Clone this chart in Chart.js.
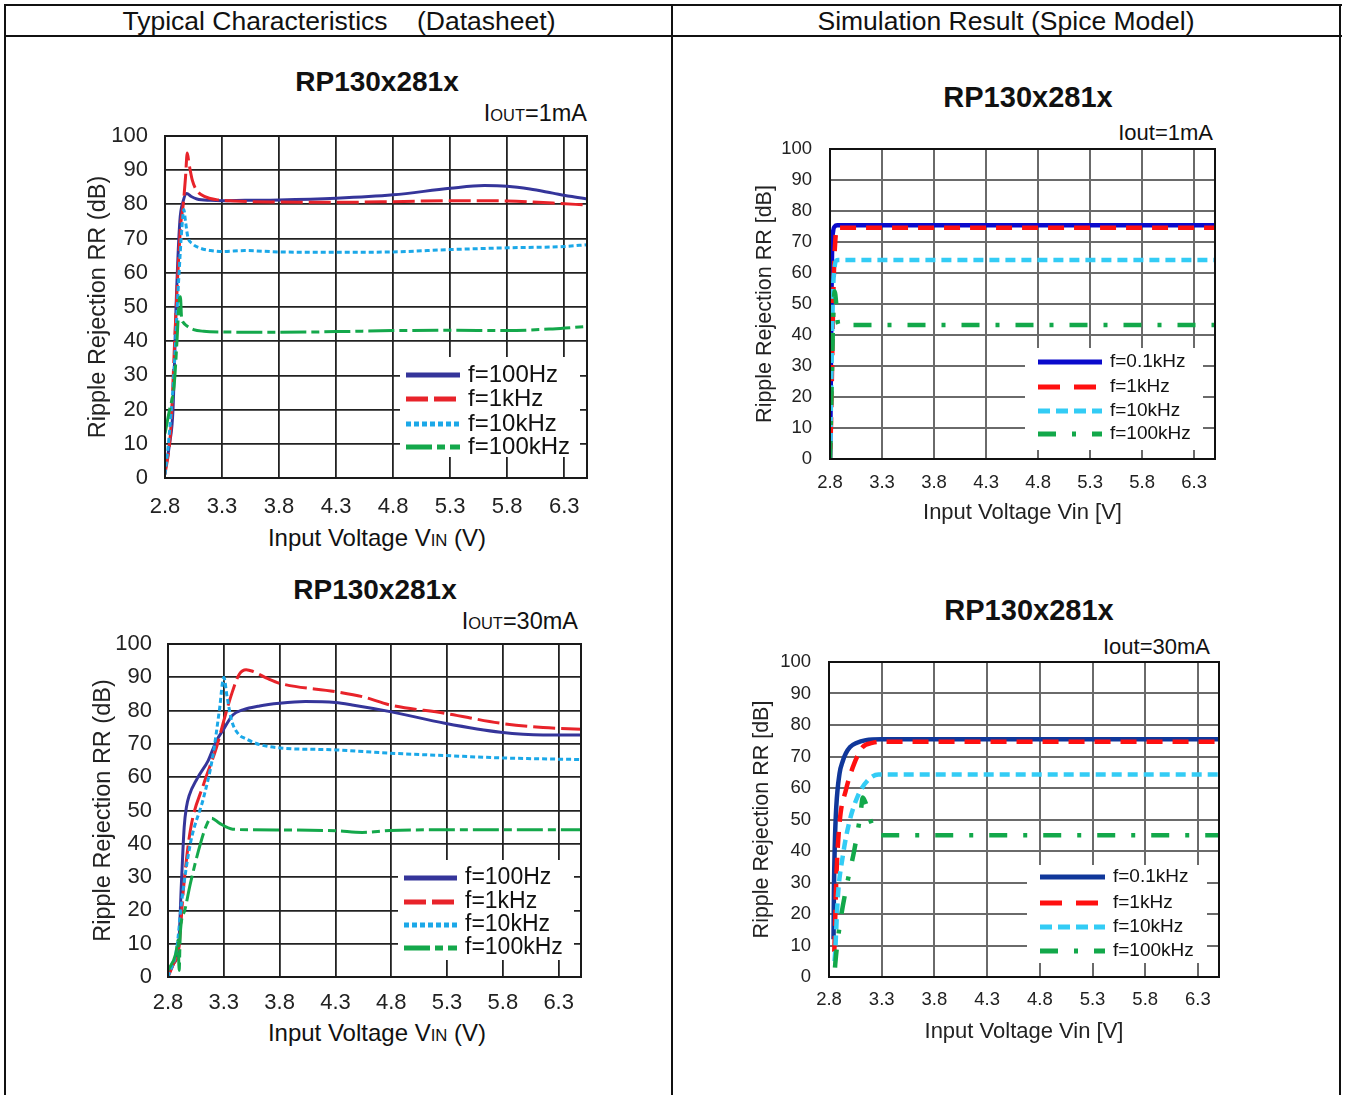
<!DOCTYPE html>
<html>
<head>
<meta charset="utf-8">
<script src="https://cdn.jsdelivr.net/npm/chart.js@4.4.1/dist/chart.umd.min.js"></script>
<style>
  body { margin: 0; background: #fff; font-family: 'Liberation Sans', Arial, sans-serif; color: #111; }
  #page { position: relative; width: 1346px; height: 1095px; overflow: hidden; }
  .rule { position: absolute; background: #111; }
  .lbl { position: absolute; white-space: pre; line-height: 1; transform: translate(-50%, -50%); }
  .lbl.right { transform: translate(-100%, -50%); }
  .sc { font-size: 70%; }
  canvas { position: absolute; }
</style>
</head>
<body>
<div id="page">
  <!-- table rules -->
  <div class="rule" style="left:4px;top:4px;width:1338px;height:2px"></div>
  <div class="rule" style="left:4px;top:35px;width:1338px;height:2px"></div>
  <div class="rule" style="left:4px;top:4px;width:2px;height:1091px"></div>
  <div class="rule" style="left:671px;top:4px;width:2px;height:1091px"></div>
  <div class="rule" style="left:1339px;top:4px;width:2px;height:1091px"></div>

  <div class="lbl" style="left:339px;top:21px;font-size:26.5px">Typical Characteristics    (Datasheet)</div>
  <div class="lbl" style="left:1006px;top:21px;font-size:26.5px">Simulation Result (Spice Model)</div>

  <!-- datasheet, 1mA -->
  <div class="lbl" style="left:377px;top:82px;font-size:28px;font-weight:bold">RP130x281x</div>
  <div class="lbl right" style="left:587px;top:114px;font-size:23.5px">I<span class="sc">OUT</span>=1mA</div>
  <div class="lbl" style="left:377px;top:538px;font-size:24px">Input Voltage V<span class="sc">IN</span> (V)</div>
  <canvas id="chartA"></canvas>

  <!-- datasheet, 30mA -->
  <div class="lbl" style="left:375px;top:590px;font-size:28px;font-weight:bold">RP130x281x</div>
  <div class="lbl right" style="left:578px;top:622px;font-size:23.5px">I<span class="sc">OUT</span>=30mA</div>
  <div class="lbl" style="left:377px;top:1033px;font-size:24px">Input Voltage V<span class="sc">IN</span> (V)</div>
  <canvas id="chartC"></canvas>

  <!-- simulation, 1mA -->
  <div class="lbl" style="left:1028px;top:97px;font-size:29px;font-weight:bold">RP130x281x</div>
  <div class="lbl right" style="left:1213px;top:133px;font-size:22px">Iout=1mA</div>
  <canvas id="chartB"></canvas>

  <!-- simulation, 30mA -->
  <div class="lbl" style="left:1029px;top:610px;font-size:29px;font-weight:bold">RP130x281x</div>
  <div class="lbl right" style="left:1210px;top:647px;font-size:22px">Iout=30mA</div>
  <canvas id="chartD"></canvas>
</div>

<script>
// tick labels
const xTicks = [2.8, 3.3, 3.8, 4.3, 4.8, 5.3, 5.8, 6.3];
const yTicks = [0, 10, 20, 30, 40, 50, 60, 70, 80, 90, 100];

// datasheet, Iout=1mA
const a100HzVin = [2.80, 2.84, 2.87, 2.90, 2.93, 2.96, 2.99, 3.03, 3.08, 3.20, 3.30, 3.50, 3.80, 4.30, 4.80, 5.30, 5.60, 5.80, 6.00, 6.20, 6.35, 6.50];
const a100HzRr  = [2, 10, 20, 53, 75, 81, 83.2, 82.3, 81.6, 81.2, 81.1, 81.2, 81.3, 81.8, 82.8, 84.7, 85.5, 85.3, 84.5, 83.3, 82.4, 81.6];
const a1kHzVin  = [2.80, 2.85, 2.89, 2.935, 2.96, 2.98, 2.995, 3.01, 3.04, 3.08, 3.15, 3.25, 3.40, 3.80, 4.30, 4.80, 5.30, 5.80, 6.20, 6.50];
const a1kHzRr   = [1, 14, 44, 73, 80, 88, 95, 92, 87, 84, 82.3, 81.4, 81, 80.7, 80.6, 80.8, 81.1, 81, 80.4, 79.8];
const a10kHzVin = [2.80, 2.83, 2.875, 2.92, 2.95, 2.965, 2.98, 3.00, 3.04, 3.10, 3.20, 3.30, 3.50, 3.80, 4.30, 4.80, 5.30, 5.80, 6.30, 6.50];
const a10kHzRr  = [1, 10, 29, 58, 74, 78.5, 75, 70.5, 68.5, 67.3, 66.5, 66.2, 66.5, 66.1, 66, 66.1, 66.8, 67.3, 67.7, 68.2];
const a100kHzVin = [2.80, 2.84, 2.88, 2.905, 2.925, 2.935, 2.945, 2.96, 2.99, 3.05, 3.14, 3.30, 3.80, 4.30, 4.80, 5.30, 5.80, 6.20, 6.50];
const a100kHzRr  = [13, 20, 27, 40, 52, 53, 47, 45.5, 44.5, 43.4, 42.9, 42.7, 42.6, 42.8, 43.1, 43.2, 43.1, 43.6, 44.3];

// datasheet, Iout=30mA
const c100HzVin = [2.80, 2.85, 2.895, 2.92, 2.945, 2.965, 2.99, 3.06, 3.16, 3.235, 3.30, 3.38, 3.47, 3.62, 3.80, 4.03, 4.30, 4.45, 4.79, 5.28, 5.78, 6.16, 6.50];
const c100HzRr  = [0.5, 4, 9, 28, 45, 51, 54.5, 59.5, 65, 71, 74.5, 78.7, 80.2, 81.4, 82.2, 82.7, 82.4, 81.7, 79.7, 76.2, 73.5, 72.7, 72.7];
const c1kHzVin  = [2.80, 2.85, 2.895, 2.94, 3.00, 3.12, 3.235, 3.30, 3.38, 3.44, 3.50, 3.56, 3.70, 3.80, 4.30, 4.54, 4.79, 5.28, 5.78, 6.16, 6.50];
const c1kHzRr   = [0, 4, 8, 27, 44, 58, 69, 77, 86, 91, 92.3, 91.8, 89.5, 88.2, 85.7, 84.2, 81.7, 79.2, 76.2, 74.9, 74.4];
const c10kHzVin = [2.80, 2.88, 2.92, 3.00, 3.12, 3.20, 3.26, 3.30, 3.33, 3.37, 3.43, 3.50, 3.62, 3.80, 4.30, 4.79, 5.28, 5.78, 6.50];
const c10kHzRr  = [0, 9, 22, 40, 54, 66, 80, 90, 84, 77, 73, 71.5, 69.8, 68.8, 68.2, 67.2, 66.5, 65.8, 65.3];
const c100kHzVin = [2.80, 2.87, 2.89, 2.90, 2.91, 2.95, 3.00, 3.09, 3.15, 3.19, 3.26, 3.38, 3.56, 4.30, 4.54, 4.79, 5.28, 6.50];
const c100kHzRr  = [2, 7, 11, 2, 13, 20, 28, 40, 46, 47.7, 46.2, 44.4, 44.2, 43.9, 43.4, 44, 44.2, 44.2];

// simulation, Iout=1mA
const b01kHzVin = [2.80, 2.805, 2.81, 2.815, 2.82, 2.83, 2.845, 2.87, 6.50];
const b01kHzRr  = [0, 15, 35, 55, 68, 73.5, 75, 75.4, 75.4];
const b1kHzVin  = [2.80, 2.81, 2.82, 2.83, 2.84, 2.85, 2.86, 2.88, 6.50];
const b1kHzRr   = [0, 12, 30, 50, 63, 70, 73.5, 74.6, 74.6];
const b10kHzVin = [2.80, 2.81, 2.82, 2.83, 2.845, 2.86, 2.88, 6.50];
const b10kHzRr  = [0, 20, 40, 55, 62, 64, 64.2, 64.2];
const b100kHzVin = [2.80, 2.81, 2.82, 2.83, 2.845, 2.86, 2.875, 2.89, 6.50];
const b100kHzRr  = [0, 15, 30, 45, 54, 50, 44, 43.2, 43.2];

// simulation, Iout=30mA
const d01kHzVin = [2.843, 2.847, 2.855, 2.869, 2.90, 2.93, 2.96, 3.00, 3.06, 3.15, 3.30, 6.50];
const d01kHzRr  = [12, 28, 42, 54, 64.6, 68.5, 71, 73, 74.3, 75.2, 75.5, 75.5];
const d1kHzVin  = [2.85, 2.853, 2.869, 2.90, 2.96, 3.04, 3.12, 3.21, 3.30, 6.50];
const d1kHzRr   = [8, 11, 31, 48.8, 59.3, 67.8, 73, 74.3, 74.7, 74.7];
const d10kHzVin = [2.853, 2.857, 2.884, 2.93, 2.99, 3.07, 3.17, 3.27, 6.50];
const d10kHzRr  = [5, 7, 25.5, 38.2, 48.8, 57.2, 62.5, 64.3, 64.3];
const d100kHzVin = [2.857, 2.86, 2.90, 2.96, 3.04, 3.10, 3.12, 3.15, 3.19, 3.25, 3.30, 6.50];
const d100kHzRr  = [3, 4.4, 16, 27.7, 40.3, 52, 57, 55, 50, 46, 45, 45];

const pts = (xs, ys) => xs.map((x, i) => ({x: x, y: ys[i]}));

Chart.defaults.font.family = "'Liberation Sans', Arial, sans-serif";
Chart.defaults.color = '#222';

// outline round the plot area
const framePlugin = {
  id: 'frame',
  afterDatasetsDraw(chart, args, opts) {
    const {ctx, chartArea: a} = chart;
    ctx.save();
    ctx.strokeStyle = opts.color;
    ctx.lineWidth = opts.width;
    ctx.strokeRect(a.left, a.top, a.right - a.left, a.bottom - a.top);
    ctx.restore();
  }
};

// legend box drawn inside the plot, over the grid
const boxLegend = {
  id: 'boxLegend',
  afterDatasetsDraw(chart, args, o) {
    const ctx = chart.ctx;
    ctx.save();
    ctx.fillStyle = '#fff';
    ctx.fillRect(o.box[0], o.box[1], o.box[2] - o.box[0], o.box[3] - o.box[1]);
    ctx.font = o.font;
    ctx.textBaseline = 'middle';
    chart.data.datasets.forEach((ds, i) => {
      const y = o.rows[i];
      ctx.beginPath();
      ctx.setLineDash(ds.legendDash || []);
      ctx.strokeStyle = ds.borderColor;
      ctx.lineWidth = o.lineWidth;
      ctx.moveTo(o.sample[0], y);
      ctx.lineTo(o.sample[1], y);
      ctx.stroke();
      ctx.setLineDash([]);
      ctx.fillStyle = '#111';
      ctx.fillText(ds.label, o.textX, y);
    });
    ctx.restore();
  }
};

function makeChart(id, s) {
  const cv = document.getElementById(id);
  const p = s.plot;
  // the y axis asks for half a label plus its padding above the plot, so start the canvas there
  const padTop = Math.ceil(s.yPad + s.tickSize * 0.6) + 1;
  const o = { left: s.left, top: p.t - padTop };
  const w = s.right - o.left, h = s.bottom - o.top;
  cv.style.left = o.left + 'px';
  cv.style.top = o.top + 'px';
  cv.width = w;
  cv.height = h;
  const L = s.legend;

  new Chart(cv, {
    type: 'line',
    data: {
      datasets: s.series.map((d, i) => ({
        label: d.label,
        data: pts(d.vin, d.rr),
        borderColor: d.color,
        borderWidth: s.lineWidth,
        borderDash: d.dash,
        legendDash: d.legendDash || d.dash,
        borderJoinStyle: 'round',
        pointRadius: 0,
        cubicInterpolationMode: 'monotone',
        fill: false,
        order: 4 - i
      }))
    },
    options: {
      responsive: false,
      animation: false,
      events: [],
      layout: { padding: { top: padTop, right: s.right - p.r, left: 0, bottom: 0 } },
      plugins: {
        legend: { display: false },
        tooltip: { enabled: false },
        frame: { color: s.frameColor, width: 2 },
        boxLegend: {
          box: [L.box[0] - o.left, L.box[1] - o.top, L.box[2] - o.left, L.box[3] - o.top],
          sample: [L.sample[0] - o.left, L.sample[1] - o.left],
          textX: L.textX - o.left,
          rows: L.rows.map(y => y - o.top),
          font: L.font,
          lineWidth: L.lineWidth
        }
      },
      scales: {
        x: {
          type: 'linear',
          min: 2.8,
          max: 6.5,
          afterBuildTicks: sc => { sc.ticks = xTicks.map(v => ({value: v})); },
          afterFit: sc => { sc.height = s.bottom - p.b; },
          ticks: { font: { size: s.tickSize }, padding: s.xPad, color: '#222', maxRotation: 0, callback: v => v.toFixed(1) },
          grid: { color: s.gridColor, lineWidth: s.gridWidth, drawTicks: false },
          border: { color: s.frameColor, width: 2 },
          title: s.xTitle
            ? { display: true, text: s.xTitle, color: '#222', font: { size: s.xTitleSize }, padding: { top: 0, bottom: s.xTitlePad } }
            : { display: false }
        },
        y: {
          min: 0,
          max: 100,
          afterBuildTicks: sc => { sc.ticks = yTicks.map(v => ({value: v})); },
          afterFit: sc => { sc.width = p.l - o.left; },
          ticks: { font: { size: s.tickSize }, padding: s.yPad, color: '#222', callback: v => String(v) },
          grid: { color: s.gridColor, lineWidth: s.gridWidth, drawTicks: false },
          border: { color: s.frameColor, width: 2 },
          title: { display: true, text: s.yTitle, color: '#222', font: { size: s.yTitleSize }, padding: { top: s.yTitlePad, bottom: 0 } }
        }
      }
    },
    plugins: [boxLegend, framePlugin]
  });
}

const dsBlue = '#35359a', dsRed = '#e8232a', dsCyan = '#1ba8e8', dsGreen = '#14a84b';

makeChart('chartA', {
  left: 80, right: 600, bottom: 562,
  plot: { l: 165, t: 136, r: 587, b: 478 },
  tickSize: 22, yPad: 17, xPad: 16,
  yTitle: 'Ripple Rejection RR (dB)', yTitleSize: 23.5, yTitlePad: 4,
  gridColor: '#222', gridWidth: 1.8, frameColor: '#1a1a1a', lineWidth: 3,
  legend: { box: [400, 357, 580, 457], sample: [406, 460], textX: 468, rows: [375, 399, 424, 447],
            font: "24px 'Liberation Sans', Arial, sans-serif", lineWidth: 5 },
  series: [
    { label: 'f=100Hz', vin: a100HzVin, rr: a100HzRr, color: dsBlue, dash: [] },
    { label: 'f=1kHz', vin: a1kHzVin, rr: a1kHzRr, color: dsRed, dash: [22, 6] },
    { label: 'f=10kHz', vin: a10kHzVin, rr: a10kHzRr, color: dsCyan, dash: [5, 3] },
    { label: 'f=100kHz', vin: a100kHzVin, rr: a100kHzRr, color: dsGreen, dash: [26, 5, 8, 5] }
  ]
});

makeChart('chartC', {
  left: 80, right: 594, bottom: 1060,
  plot: { l: 168, t: 644, r: 581, b: 977 },
  tickSize: 22, yPad: 16, xPad: 13,
  yTitle: 'Ripple Rejection RR (dB)', yTitleSize: 23.5, yTitlePad: 9,
  gridColor: '#222', gridWidth: 1.8, frameColor: '#1a1a1a', lineWidth: 3,
  legend: { box: [398, 860, 574, 960], sample: [404, 457], textX: 465, rows: [878, 902, 925, 948],
            font: "23px 'Liberation Sans', Arial, sans-serif", lineWidth: 5 },
  series: [
    { label: 'f=100Hz', vin: c100HzVin, rr: c100HzRr, color: dsBlue, dash: [] },
    { label: 'f=1kHz', vin: c1kHzVin, rr: c1kHzRr, color: dsRed, dash: [22, 6] },
    { label: 'f=10kHz', vin: c10kHzVin, rr: c10kHzRr, color: dsCyan, dash: [5, 3] },
    { label: 'f=100kHz', vin: c100kHzVin, rr: c100kHzRr, color: dsGreen, dash: [26, 5, 8, 5] }
  ]
});

makeChart('chartB', {
  left: 740, right: 1230, bottom: 530,
  plot: { l: 830, t: 149, r: 1215, b: 459 },
  tickSize: 18.5, yPad: 18, xPad: 13,
  yTitle: 'Ripple Rejection RR [dB]', yTitleSize: 21.5, yTitlePad: 12,
  xTitle: 'Input Voltage Vin [V]', xTitleSize: 22, xTitlePad: 4,
  gridColor: '#6a6a6a', gridWidth: 2, frameColor: '#111', lineWidth: 4.5,
  legend: { box: [1025, 348, 1203, 450], sample: [1038, 1102], textX: 1110, rows: [362, 387, 411, 434],
            font: "19px 'Liberation Sans', Arial, sans-serif", lineWidth: 5 },
  series: [
    { label: 'f=0.1kHz', vin: b01kHzVin, rr: b01kHzRr, color: '#0a0acc', dash: [] },
    { label: 'f=1kHz', vin: b1kHzVin, rr: b1kHzRr, color: '#ff1010', dash: [16, 10], legendDash: [22, 14] },
    { label: 'f=10kHz', vin: b10kHzVin, rr: b10kHzRr, color: '#33ccf5', dash: [10, 6], legendDash: [12, 6] },
    { label: 'f=100kHz', vin: b100kHzVin, rr: b100kHzRr, color: '#12a84a', dash: [18, 16, 4, 16] }
  ]
});

makeChart('chartD', {
  left: 740, right: 1234, bottom: 1047,
  plot: { l: 829, t: 662, r: 1219, b: 977 },
  tickSize: 18.5, yPad: 18, xPad: 12,
  yTitle: 'Ripple Rejection RR [dB]', yTitleSize: 21.5, yTitlePad: 9,
  xTitle: 'Input Voltage Vin [V]', xTitleSize: 22, xTitlePad: 2,
  gridColor: '#6a6a6a', gridWidth: 2, frameColor: '#111', lineWidth: 4.5,
  legend: { box: [1027, 865, 1207, 963], sample: [1040, 1105], textX: 1113, rows: [877, 903, 927, 951],
            font: "19px 'Liberation Sans', Arial, sans-serif", lineWidth: 5 },
  series: [
    { label: 'f=0.1kHz', vin: d01kHzVin, rr: d01kHzRr, color: '#10379a', dash: [] },
    { label: 'f=1kHz', vin: d1kHzVin, rr: d1kHzRr, color: '#ff1010', dash: [16, 10], legendDash: [22, 14] },
    { label: 'f=10kHz', vin: d10kHzVin, rr: d10kHzRr, color: '#33ccf5', dash: [10, 6], legendDash: [12, 6] },
    { label: 'f=100kHz', vin: d100kHzVin, rr: d100kHzRr, color: '#12a84a', dash: [18, 16, 4, 16] }
  ]
});
</script>
</body>
</html>
